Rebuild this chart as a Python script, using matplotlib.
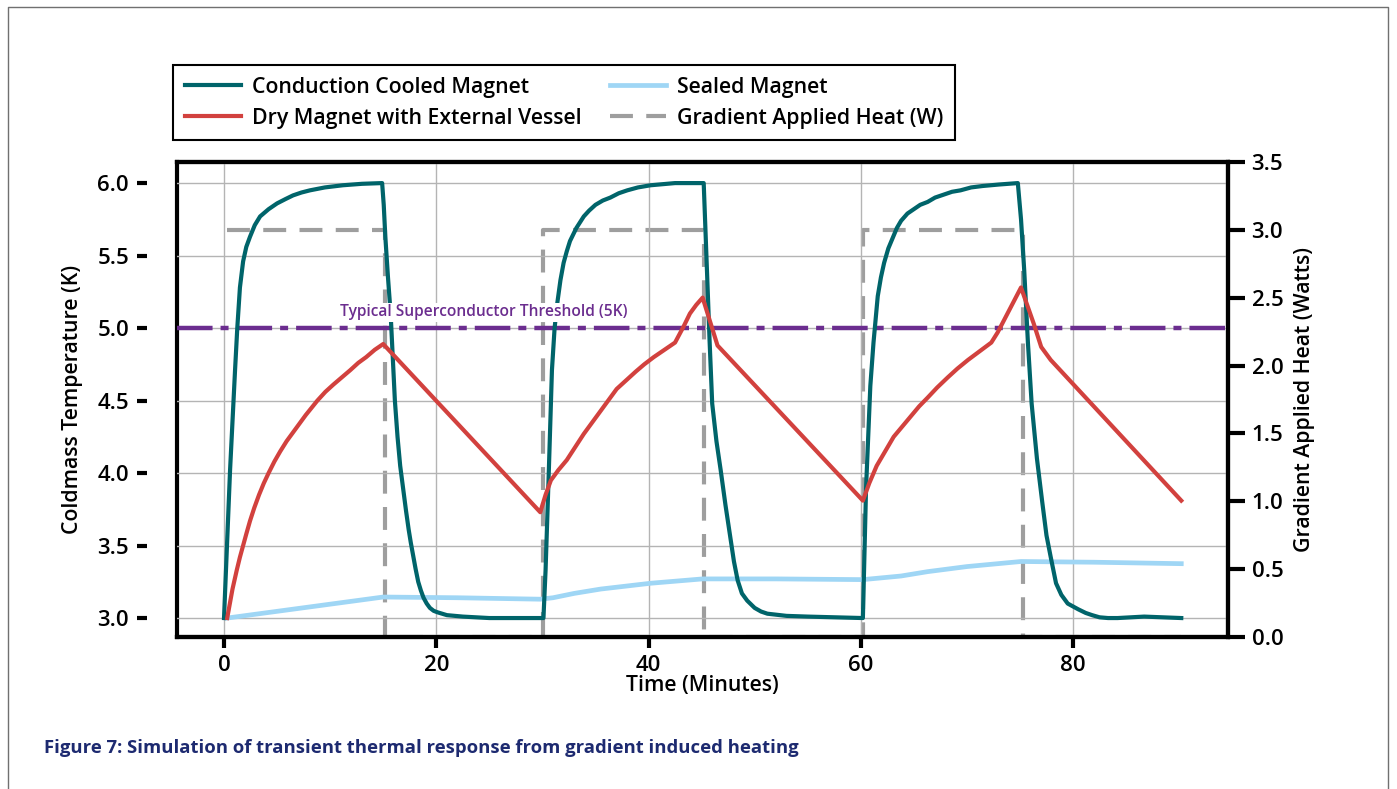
import matplotlib.pyplot as plt
from matplotlib.lines import Line2D

# ---- data ----
cc_time = [0, 0.57, 1.04, 1.25, 1.5, 1.8, 2.1, 2.45, 2.9, 3.4, 4.2, 5.0, 5.8, 6.5, 7.3, 8.1, 9.5, 11.2, 13.0, 14.9,
           15.05, 15.2, 15.45, 15.7, 15.9, 16.1, 16.35, 16.6, 16.9, 17.15, 17.4, 17.6, 17.8, 18.05, 18.3, 18.55,
           18.8, 19.1, 19.4, 19.75, 20.1, 21.0, 22.5, 25.0, 30.1,
           30.3, 30.6, 30.9, 31.15, 31.4, 31.7, 32.0, 32.3, 32.6, 33.2, 33.9, 34.4, 35.0, 35.7, 36.4, 37.2, 38.0,
           39.0, 40.2, 42.5, 45.2,
           45.35, 45.5, 45.75, 46.0, 46.4, 46.8, 47.25, 47.7, 48.05, 48.4, 48.8, 49.3, 50.0, 50.6, 51.2, 53.0,
           55.0, 57.5, 59.8,
           60.2, 60.5, 60.9, 61.2, 61.6, 61.9, 62.2, 62.6, 63.0, 63.4, 63.8, 64.4, 65.0, 65.6, 66.3, 67.0, 67.8,
           68.6, 69.4, 70.4, 71.5, 73.0, 74.8,
           75.1, 75.4, 75.75, 76.1, 76.6, 77.1, 77.5, 77.9, 78.4, 78.9, 79.5, 80.0, 80.5, 81.2, 81.8, 82.5, 83.3,
           84.2, 85.0, 86.7, 88.5, 90.2]
cc_temp = [3.0, 4.02, 4.71, 5.0, 5.28, 5.46, 5.56, 5.63, 5.71, 5.77, 5.82, 5.86, 5.89, 5.915, 5.935, 5.95, 5.97, 5.985, 5.995, 6.0,
           5.85, 5.63, 5.35, 5.1, 4.8, 4.5, 4.25, 4.05, 3.88, 3.74, 3.61, 3.52, 3.44, 3.34, 3.25, 3.19,
           3.14, 3.1, 3.07, 3.05, 3.04, 3.02, 3.01, 3.0, 3.0,
           3.33, 4.0, 4.71, 5.0, 5.17, 5.33, 5.45, 5.53, 5.6, 5.69, 5.77, 5.81, 5.85, 5.88, 5.9, 5.93, 5.95,
           5.97, 5.985, 6.0, 6.0,
           5.7, 5.4, 4.92, 4.48, 4.22, 4.02, 3.78, 3.56, 3.39, 3.26, 3.17, 3.12, 3.07, 3.045, 3.03, 3.015,
           3.01, 3.005, 3.0,
           3.0, 3.9, 4.6, 4.9, 5.22, 5.35, 5.45, 5.55, 5.62, 5.69, 5.74, 5.79, 5.82, 5.85, 5.87, 5.9, 5.92,
           5.94, 5.95, 5.97, 5.98, 5.99, 6.0,
           5.75, 5.4, 4.9, 4.48, 4.1, 3.8, 3.57, 3.42, 3.24, 3.16, 3.1, 3.08, 3.06, 3.035, 3.02, 3.005, 3.0,
           3.0, 3.003, 3.01, 3.005, 3.0]

dry_time = [0.3, 0.55, 0.8, 1.2, 1.5, 1.8, 2.1, 2.45, 2.85, 3.3, 3.75, 4.2, 4.75, 5.3, 5.9, 6.5, 7.1, 7.7, 8.25,
            8.8, 9.55, 10.3, 11.1, 11.9, 12.65, 13.4, 14.2, 15.0, 29.8,
            30.3, 30.8, 31.5, 32.3, 33.1, 33.9, 34.7, 35.5, 36.2, 37.0, 37.9, 38.8, 39.6, 40.5, 41.5, 42.5,
            43.3, 43.9, 44.5, 45.1, 46.5, 60.2,
            60.8, 61.5, 62.3, 63.1, 63.9, 64.7, 65.5, 66.3, 67.2, 68.2, 69.1, 70.1, 71.2, 72.3, 72.9, 75.1,
            76.3, 77.0, 77.9, 90.2]
dry_temp = [3.0, 3.1, 3.2, 3.33, 3.42, 3.5, 3.58, 3.67, 3.76, 3.85, 3.93, 4.0, 4.08, 4.15, 4.22, 4.28, 4.34, 4.4, 4.45,
            4.5, 4.56, 4.61, 4.66, 4.71, 4.76, 4.8, 4.85, 4.89, 3.73,
            3.85, 3.95, 4.02, 4.09, 4.18, 4.27, 4.35, 4.43, 4.5, 4.58, 4.64, 4.70, 4.75, 4.80, 4.85, 4.9,
            5.01, 5.10, 5.16, 5.21, 4.88, 3.81,
            3.93, 4.05, 4.15, 4.25, 4.32, 4.39, 4.46, 4.52, 4.59, 4.66, 4.72, 4.78, 4.84, 4.9, 4.97, 5.28,
            5.03, 4.87, 4.78, 3.81]

sealed_time = [0.3, 15.0, 22.0, 29.8, 31.0, 33.0, 35.5, 40.2, 45.1, 52.0, 60.2, 63.8, 66.3, 70.0, 75.1, 82.0, 90.2]
sealed_temp = [3.0, 3.145, 3.14, 3.13, 3.14, 3.17, 3.2, 3.24, 3.27, 3.27, 3.265, 3.29, 3.32, 3.355, 3.39, 3.385, 3.375]

heat_time = [0.3, 15.2, 15.2, 30.1, 30.1, 45.2, 45.2, 60.2, 60.2, 75.3, 75.3, 90.2]
heat_watts = [3, 3, 0, 0, 3, 3, 0, 0, 3, 3, 0, 0]

threshold = 5.0
left_ticks = [3.0, 3.5, 4.0, 4.5, 5.0, 5.5, 6.0]
right_ticks = [0.0, 0.5, 1.0, 1.5, 2.0, 2.5, 3.0, 3.5]
x_ticks = [0, 20, 40, 60, 80]

TEAL = '#00646a'
RED = '#d2413e'
LIGHT = '#9fd6f5'
GRAY = '#9e9e9e'
PURPLE = '#6b2d8f'
NAVY = '#1d2a70'

plt.rcParams['font.family'] = ['Open Sans', 'DejaVu Sans']
FS = 15.3
TFS = 16

fig = plt.figure(figsize=(13.97, 7.89), dpi=100)
ax = fig.add_axes([0.1267, 0.1926, 0.7523, 0.6020])
ax2 = ax.twinx()
ax.set_zorder(ax2.get_zorder() + 1)
ax.patch.set_visible(False)

# heat on right axis (drawn underneath)
heat_line, = ax2.plot(heat_time, heat_watts, color=GRAY, lw=3, dashes=(5.5, 3.2),
                      label='Gradient Applied Heat (W)')
ax2.set_ylim(0, 3.5)
ax2.set_yticks(right_ticks)
ax2.set_yticklabels(['%.1f' % v for v in right_ticks])
ax2.tick_params(axis='y', length=12, width=3, pad=5, labelsize=TFS)
for lab in ax2.get_yticklabels():
    lab.set_fontweight('semibold')
ax2.set_ylabel('Gradient Applied Heat (Watts)', fontsize=FS, fontweight='semibold', labelpad=8)
for sp in ax2.spines.values():
    sp.set_linewidth(3)

ax.axhline(threshold, color=PURPLE, lw=3.2, dashes=(8, 1.8, 1.8, 1.8), zorder=2)
ax.text(24.5, 5.11, 'Typical Superconductor Threshold (5K)', color=PURPLE, fontsize=11.2,
        fontweight='semibold', ha='center', va='center', zorder=10,
        bbox=dict(facecolor='white', edgecolor='none', pad=1))

cc_line, = ax.plot(cc_time, cc_temp, color=TEAL, lw=3, zorder=4, label='Conduction Cooled Magnet')
sealed_line, = ax.plot(sealed_time, sealed_temp, color=LIGHT, lw=3.4, zorder=3, label='Sealed Magnet')
dry_line, = ax.plot(dry_time, dry_temp, color=RED, lw=3, zorder=5, label='Dry Magnet with External Vessel')

ax.set_xlim(-4.43, 94.6)
ax.set_ylim(2.869, 6.145)
ax.set_xticks(x_ticks)
ax.set_yticks(left_ticks)
ax.set_yticklabels(['%.1f' % v for v in left_ticks])
ax.grid(True, color='#b4b4b4', lw=1)
ax.set_axisbelow(True)

# left ticks sit detached from the frame (frame edge comes from ax2's left spine)
ax.spines['left'].set_position(('outward', 21.6))
ax.spines['left'].set_visible(False)
for sp in ['top', 'right', 'bottom']:
    ax.spines[sp].set_linewidth(3)
ax.tick_params(axis='y', length=7, width=3, pad=6, labelsize=TFS)
ax.tick_params(axis='x', length=8, width=3, pad=5, labelsize=TFS)
for lab in ax.get_xticklabels() + ax.get_yticklabels():
    lab.set_fontweight('semibold')
ax.set_xlabel('Time (Minutes)', fontsize=FS, fontweight='semibold', labelpad=-1)
ax.set_ylabel('Coldmass Temperature (K)', fontsize=FS, fontweight='semibold', labelpad=10)

leg = fig.legend(handles=[cc_line, dry_line, sealed_line, heat_line], loc='upper left',
                 bbox_to_anchor=(0.1238, 0.9176), ncol=2, borderaxespad=0, fancybox=False,
                 edgecolor='black', fontsize=FS, handlelength=2.65, handletextpad=0.5,
                 columnspacing=1.35, labelspacing=0.47, borderpad=0.55, framealpha=1)
leg.get_frame().set_linewidth(1.5)
for t in leg.get_texts():
    t.set_fontweight('semibold')

fig.text(0.0315, 0.052, 'Figure 7: Simulation of transient thermal response from gradient induced heating',
         color=NAVY, fontsize=13.3, fontweight='bold', ha='left', va='center')

# thin page frame
fw, fh = 1397.0, 789.0
frame = Line2D([8 / fw, 8 / fw, 1388 / fw, 1388 / fw], [-0.1, 1 - 7 / fh, 1 - 7 / fh, -0.1],
               transform=fig.transFigure, color='#707070', lw=1)
fig.add_artist(frame)

fig.savefig('out.png', dpi=100)
